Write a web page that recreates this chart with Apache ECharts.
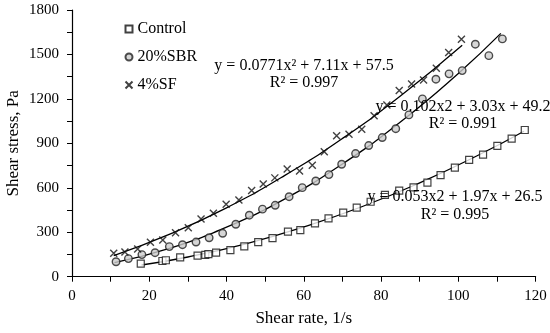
<!DOCTYPE html>
<html><head><meta charset="utf-8">
<script src="https://cdn.jsdelivr.net/npm/echarts@6/dist/echarts.min.js"></script>
<style>html,body{margin:0;padding:0;background:#fff}#c{width:550px;height:333px}</style>
</head><body><div id="c"></div>
<script>
var seriesNames = ['Control', '20%SBR', '4%SF'];
var controlX = [17.8,23.4,24.3,28,32.5,34.5,35.3,37.3,41,44.6,48.2,51.9,55.9,59.1,62.9,66.4,70.2,73.7,77.3,81,84.7,88.4,92,95.4,99.1,102.8,106.4,110.1,113.8,117.2];
var controlY = [88,106,111,131,142,147,153,162,180,205,234,261,304,315,360,394,432,466,506,552,581,603,635,685,736,788,824,883,932,990];
var sbrX = [11.4,14.6,18.1,21.5,25.2,28.6,32.1,35.5,39,42.4,45.9,49.3,52.6,56.2,59.6,63.1,66.5,69.8,73.4,76.8,80.3,83.8,87.2,90.7,94.2,97.6,101,104.4,107.9,111.4];
var sbrY = [101,122,149,162,203,216,234,263,293,354,415,456,482,540,601,646,689,759,831,885,939,999,1092,1200,1333,1369,1391,1569,1492,1605];
var sfX = [10.8,13.7,17,20.3,23.5,26.8,30.1,33.4,36.6,39.9,43.2,46.5,49.5,52.5,55.7,58.9,62.2,65.3,68.5,71.7,75,78.2,81.5,84.7,87.9,91,94.3,97.5,100.8];
var sfY = [158,167,187,232,248,297,331,390,428,489,518,581,625,667,727,714,752,844,952,961,995,1087,1159,1256,1301,1328,1407,1513,1603];
// trend line points
var trendControlX = [18,30,45,60,75,90,105,117];
var trendControlY = [79,133,222,336,472,633,818,982];
var trendSbrX = [11,25,40,55,70,85,100,111];
var trendSbrY = [95,189,334,524,761,1044,1372,1642];
var trendSfX = [10.8,25,40,55,70,85,101];
var trendSfY = [143,284,465,682,933,1219,1562];
var xTicks = [0,20,40,60,80,100,120];
var yTicks = [0,300,600,900,1200,1500,1800];
var eqTexts = [
  ['y = 0.0771x\u00B2 + 7.11x + 57.5', 'R\u00B2 = 0.997'],
  ['y = 0.102x2 + 3.03x + 49.2', 'R\u00B2 = 0.991'],
  ['y = 0.053x2 + 1.97x + 26.5', 'R\u00B2 = 0.995']
];

function pairs(xs, ys){ return xs.map(function(x,i){ return [x, ys[i]]; }); }
var font = 'Liberation Serif';
var crossPath = 'path://M0,0L10,10M10,0L0,10';

var chart = echarts.init(document.getElementById('c'), null, {renderer:'canvas'});
var trendStyle = {type:'line', smooth:true, showSymbol:false, symbol:'none', silent:true,
  lineStyle:{color:'#000', width:1.3}, z:1};
function eq(text, x, y){
  return {type:'text', x:x, y:y, z:10, style:{text:text, font:'16px "Liberation Serif"', fill:'#000', align:'center', verticalAlign:'middle'}};
}
chart.setOption({
  animation:false,
  textStyle:{fontFamily:font},
  grid:{left:72, right:14.4, top:10, bottom:56.3, containLabel:false, outerBoundsMode:'none'},
  legend:{
    data:[{name:seriesNames[0]},{name:seriesNames[1]},{name:seriesNames[2]}],
    orient:'vertical', left:123, top:21, padding:0, itemGap:12, itemWidth:7, itemHeight:7,
    textStyle:{fontFamily:font, fontSize:16, lineHeight:16, color:'#000'}
  },
  xAxis:{
    type:'value', min:xTicks[0], max:xTicks[xTicks.length-1], interval:20,
    name:'Shear rate, 1/s', nameLocation:'middle', nameGap:33, nameMoveOverlap:false,
    nameTextStyle:{fontFamily:font, fontSize:17, color:'#000'},
    axisLine:{lineStyle:{color:'#000', width:1.2}},
    axisTick:{show:true, length:5, lineStyle:{color:'#000'}},
    minorTick:{show:true, splitNumber:2, length:5, lineStyle:{color:'#000'}},
    splitLine:{show:false},
    axisLabel:{fontFamily:font, fontSize:15, color:'#000', margin:12}
  },
  yAxis:{
    type:'value', min:yTicks[0], max:yTicks[yTicks.length-1], interval:300,
    name:'Shear stress, Pa', nameLocation:'middle', nameGap:50, nameMoveOverlap:false,
    nameTextStyle:{fontFamily:font, fontSize:17, color:'#000'},
    axisLine:{show:true, lineStyle:{color:'#000', width:1.2}},
    axisTick:{show:true, length:5, lineStyle:{color:'#000'}},
    minorTick:{show:true, splitNumber:2, length:5, lineStyle:{color:'#000'}},
    splitLine:{show:false},
    axisLabel:{fontFamily:font, fontSize:15, color:'#000', margin:13, formatter:function(v){ return String(v); }}
  },
  series:[
    Object.assign({name:'tc', data:pairs(trendControlX, trendControlY)}, trendStyle),
    Object.assign({name:'ts', data:pairs(trendSbrX, trendSbrY)}, trendStyle),
    Object.assign({name:'tf', data:pairs(trendSfX, trendSfY)}, trendStyle),
    {name:seriesNames[0], type:'scatter', data:pairs(controlX, controlY), symbol:'rect', symbolSize:7,
      itemStyle:{color:'#fff', borderColor:'#111', borderWidth:1.2}, z:3},
    {name:seriesNames[1], type:'scatter', data:pairs(sbrX, sbrY), symbol:'circle', symbolSize:7.5,
      itemStyle:{color:'#ccc', borderColor:'#222', borderWidth:1.4}, z:3},
    {name:seriesNames[2], type:'scatter', data:pairs(sfX, sfY), symbol:crossPath, symbolSize:7,
      itemStyle:{color:'none', borderColor:'#111', borderWidth:1.4}, z:3}
  ],
  graphic:[
    eq(eqTexts[0][0], 304, 66), eq(eqTexts[0][1], 304, 83),
    eq(eqTexts[1][0], 463, 107), eq(eqTexts[1][1], 463, 124),
    eq(eqTexts[2][0], 455, 197), eq(eqTexts[2][1], 455, 215)
  ]
});
</script></body></html>
